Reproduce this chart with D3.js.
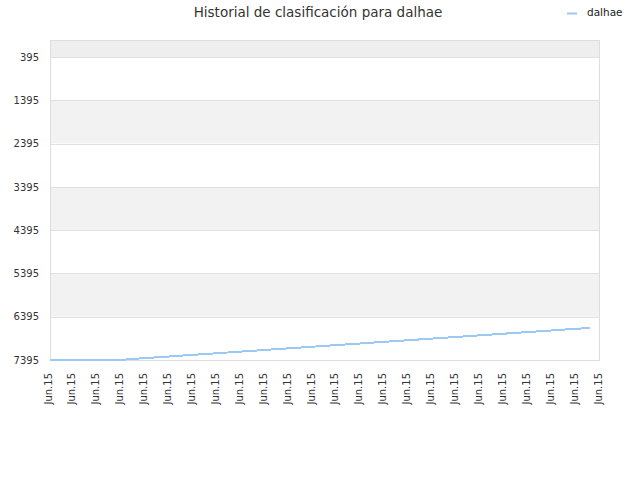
<!DOCTYPE html>
<html>
<head>
<meta charset="utf-8">
<script src="https://cdn.jsdelivr.net/npm/d3@7"></script>
<style>
  body { margin: 0; background: #fff; }
  svg { font-family: "DejaVu Sans", sans-serif; }
</style>
</head>
<body>
<div id="chart"></div>
<script>
const title = 'Historial de clasificación para dalhae';
const seriesName = 'dalhae';

// x ticks: 24 labels, all the same month
const xLabels = d3.range(24).map(() => 'Jun.15');
const yTicks = [395, 1395, 2395, 3395, 4395, 5395, 6395, 7395];

// positions along the x axis (tick index) and the rank at each
const pointX = [0, 1, 2, 3, 4, 5, 6, 7, 8, 9, 10, 11, 12, 13, 14, 15, 16, 17, 18, 19, 20, 21, 22, 22.6];
const rank = [7395, 7395, 7395, 7390, 7350, 7313, 7275, 7238, 7200, 7162, 7125, 7087, 7050, 7012,
    6974, 6937, 6899, 6862, 6824, 6786, 6749, 6711, 6673, 6655];

const width = 640, height = 480;
const margin = {top: 40, right: 40, bottom: 120, left: 50};

const svg = d3.select('#chart').append('svg')
    .attr('width', width)
    .attr('height', height);

const x = d3.scaleLinear()
    .domain([0, xLabels.length - 1])
    .range([margin.left, width - margin.right]);

const y = d3.scaleLinear()
    .domain([1, 7395])
    .range([margin.top, height - margin.bottom]);

// bands
svg.append('rect')
    .attr('x', margin.left).attr('y', margin.top)
    .attr('width', x.range()[1] - margin.left)
    .attr('height', y(yTicks[0]) - margin.top)
    .attr('fill', '#eeeeee');

for (let i = 0; i < yTicks.length - 1; i++) {
    svg.append('rect')
        .attr('x', margin.left).attr('y', y(yTicks[i]))
        .attr('width', x.range()[1] - margin.left)
        .attr('height', y(yTicks[i + 1]) - y(yTicks[i]))
        .attr('fill', i % 2 ? '#f2f2f2' : '#ffffff');
}

// grid lines
svg.append('g')
    .selectAll('line')
    .data(yTicks)
    .join('line')
    .attr('x1', margin.left).attr('x2', x.range()[1])
    .attr('y1', d => Math.round(y(d)) + 0.5).attr('y2', d => Math.round(y(d)) + 0.5)
    .attr('stroke', '#e0e0e0');

// border
svg.append('rect')
    .attr('x', margin.left + 0.5).attr('y', margin.top + 0.5)
    .attr('width', x.range()[1] - margin.left - 1)
    .attr('height', y.range()[1] - margin.top)
    .attr('fill', 'none')
    .attr('stroke', '#dddddd');

// y axis
const yAxis = svg.append('g')
    .attr('transform', `translate(${margin.left},0)`)
    .call(d3.axisLeft(y).tickValues(yTicks).tickFormat(d3.format('d')).tickSize(0).tickPadding(11));
yAxis.select('.domain').remove();
yAxis.selectAll('text').attr('font-size', 10).attr('fill', '#333')
    .attr('font-family', '"DejaVu Sans", sans-serif');

// x axis
const xAxis = svg.append('g')
    .attr('transform', `translate(0,${y.range()[1]})`)
    .call(d3.axisBottom(x).tickValues(d3.range(xLabels.length))
        .tickFormat(i => xLabels[i]).tickSize(0));
xAxis.select('.domain').remove();
xAxis.selectAll('text')
    .attr('font-size', 10).attr('fill', '#333')
    .attr('font-family', '"DejaVu Sans", sans-serif')
    .attr('text-anchor', 'end')
    .attr('transform', 'rotate(-90)')
    .attr('x', -13).attr('y', 0).attr('dy', '0.1em');

// line
const line = d3.line()
    .x((d, i) => x(pointX[i]))
    .y(d => y(d));

svg.append('path')
    .datum(rank)
    .attr('fill', 'none')
    .attr('stroke', '#9bc9f3')
    .attr('stroke-width', 2)
    .attr('shape-rendering', 'crispEdges')
    .attr('d', line);

// title
svg.append('text')
    .attr('x', 318).attr('y', 17)
    .attr('text-anchor', 'middle')
    .attr('font-size', 13.5)
    .attr('fill', '#333')
    .text(title);

// legend
svg.append('line')
    .attr('x1', 567).attr('x2', 577)
    .attr('y1', 13.5).attr('y2', 13.5)
    .attr('stroke', '#9bc9f3').attr('stroke-width', 2);
svg.append('text')
    .attr('x', 587).attr('y', 16)
    .attr('font-size', 10.5)
    .attr('fill', '#222')
    .text(seriesName);
</script>
</body>
</html>
